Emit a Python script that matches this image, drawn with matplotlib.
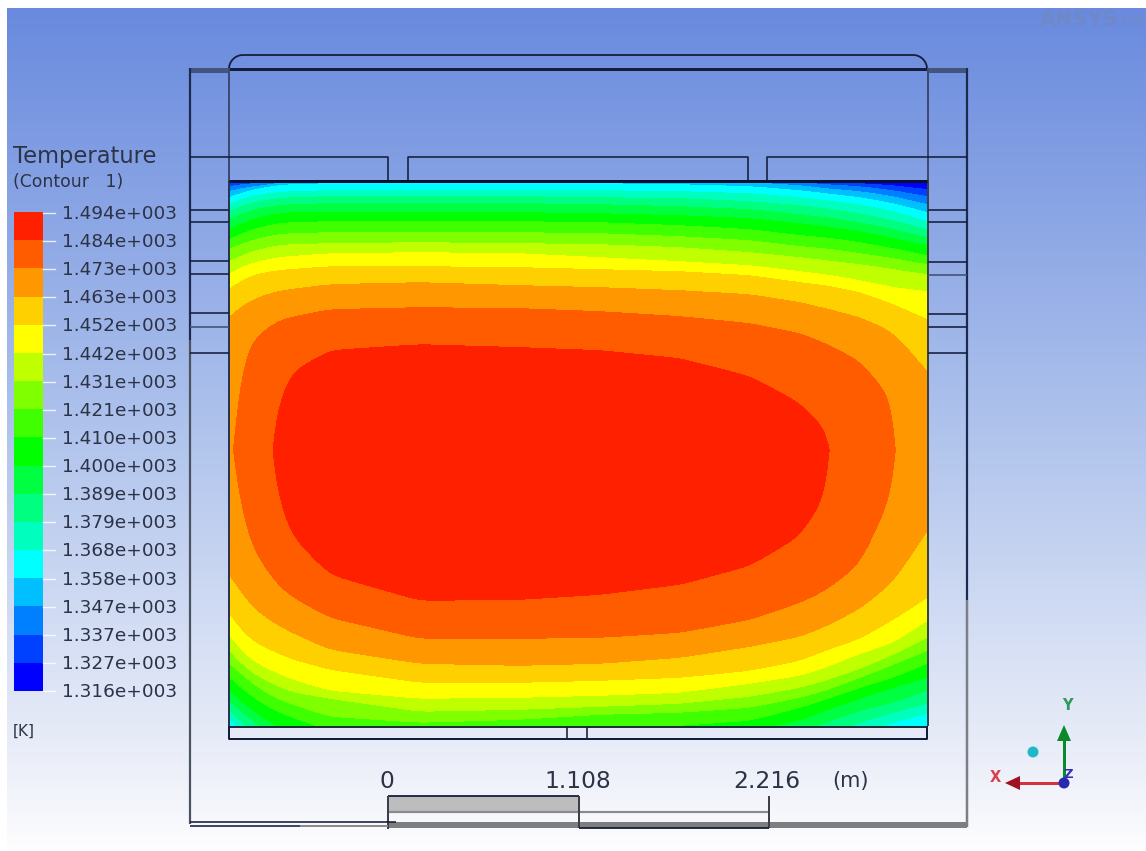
import numpy as np
import matplotlib
matplotlib.use("Agg")
import matplotlib.pyplot as plt
from matplotlib.colors import ListedColormap, LinearSegmentedColormap
from matplotlib.patches import Rectangle, Circle, Polygon

# ---------- data ----------
tick_labels = ["1.494e+003","1.484e+003","1.473e+003","1.463e+003","1.452e+003","1.442e+003",
               "1.431e+003","1.421e+003","1.410e+003","1.400e+003","1.389e+003","1.379e+003",
               "1.368e+003","1.358e+003","1.347e+003","1.337e+003","1.327e+003","1.316e+003"]
levels_asc = [1316,1327,1337,1347,1358,1368,1379,1389,1400,1410,1421,1431,1442,1452,1463,1473,1484,1494]
band_colors = ["#0000ff","#0040ff","#0080ff","#00bfff","#00ffff","#00ffbf","#00ff80","#00ff40","#00ff00",
               "#40ff00","#80ff00","#bfff00","#ffff00","#ffd000","#ff9800","#ff5c00","#ff2000"]

# isotherm positions, one value per column
iso_x = [229,240,255,277,290,330,420,520,600,680,750,800,825,860,893,927]
peak_T = [1471,1476,1480,1484.3,1490,1490,1490,1490,1490,1490,1490,1490,1484.3,1480,1473.3,1467]
peak_y = 450
nan = float("nan")

top_1316 = [170]*16
top_1327 = [184,183,181,178,177,176,175,175,175,175,177,180,182,184,186,190]
top_1337 = [187,185,184,181,179,178,178,178,178,178,180,183,185,187,191,197]
top_1347 = [192,189,187,184,182,181,181,181,181,181,183,186,189,192,197,205]
top_1358 = [198,194,190,186,185,184,184,184,184,185,187,191,194,198,204,213]
top_1368 = [205,200,196,193,192,191,191,191,191,192,194,198,201,205,212,222]
top_1379 = [212,207,203,199,198,197,197,197,198,199,202,206,209,214,221,230]
top_1389 = [220,215,210,206,205,204,204,204,205,207,210,215,218,223,230,238]
top_1400 = [230,225,219,214,213,213,213,213,214,216,219,224,227,232,239,246]
top_1410 = [240,235,229,224,223,222,222,222,223,226,230,236,238,243,249,256]
top_1421 = [250,245,240,235,234,233,233,233,234,237,241,247,249,254,259,265]
top_1431 = [262,257,251,246,245,244,243,244,245,248,253,258,261,265,270,275]
top_1442 = [275,268,263,258,257,254,253,254,258,262,266,272,275,281,288,292]
top_1452 = [290,282,275,271,270,267,267,268,270,272,276,283,286,293,305,320]
top_1463 = [318,308,299,292,290,285,283,286,288,291,295,303,309,318,333,372]
top_1473 = [nan,365,338,322,318,310,308,309,312,317,324,334,344,362,402,nan]
top_1484 = [nan,nan,nan,410,374,351,345,348,351,359,377,404,430,nan,nan,nan]

bot_1484 = [nan,nan,nan,490,533,574,600,599,594,584,565,535,495,nan,nan,nan]
bot_1473 = [nan,510,552,583,595,617,638,638,637,632,619,602,590,563,490,nan]
bot_1463 = [573,590,609,624,631,649,663,665,663,657,646,636,626,608,581,530]
bot_1452 = [612,628,642,652,658,669,682,682,680,677,670,660,650,638,619,597]
bot_1442 = [634,648,662,672,678,690,698,697,695,692,683,675,667,653,642,620]
bot_1431 = [649,662,674,685,691,698,711,709,706,703,696,687,680,668,654,637]
bot_1421 = [662,672,685,698,703,716,722,719,714,712,707,697,690,677,664,650]
bot_1410 = [676,686,698,711,716,730,738,731,727,725,720,707,699,687,677,663]
bot_1400 = [689,700,711,726,732,745,755,747,742,739,730,720,710,698,687,677]
bot_1389 = [699,710,722,738,745,760,772,763,757,753,744,732,722,710,702,690]
bot_1379 = [709,720,733,750,758,775,789,779,772,767,757,744,734,722,712,703]
bot_1368 = [717,729,744,762,771,790,806,795,787,781,770,756,746,733,722,713]
bot_1358 = [727,740,755,775,785,805,822,810,802,796,785,770,760,746,735,726]

top_rows = [top_1316,top_1327,top_1337,top_1347,top_1358,top_1368,top_1379,top_1389,top_1400,
            top_1410,top_1421,top_1431,top_1442,top_1452,top_1463,top_1473,top_1484]
top_temps = [1316,1327,1337,1347,1358,1368,1379,1389,1400,1410,1421,1431,1442,1452,1463,1473,1484]
bot_rows = [bot_1484,bot_1473,bot_1463,bot_1452,bot_1442,bot_1431,bot_1421,bot_1410,bot_1400,
            bot_1389,bot_1379,bot_1368,bot_1358]
bot_temps = [1484,1473,1463,1452,1442,1431,1421,1410,1400,1389,1379,1368,1358]

scale_labels = ["0","1.108","2.216"]

# ---------- figure, image-frame axes ----------
plt.rcParams["font.family"] = ["DejaVu Sans"]
W, H = 1146, 851
fig = plt.figure(figsize=(W/100, H/100), dpi=100, facecolor="white")
ax = fig.add_axes([0,0,1,1])
ax.set_xlim(0,W); ax.set_ylim(H,0); ax.axis("off")

# background gradient
bg = LinearSegmentedColormap.from_list("bg",[(0,"#698ade"),(0.5,"#afc3ec"),(0.9,"#eceff9"),(1,"#fdfdfe")])
ax.imshow(np.arange(256).reshape(-1,1),extent=(7,W,H,8),cmap=bg,aspect="auto",zorder=0,interpolation="bilinear")
ax.set_xlim(0,W); ax.set_ylim(H,0)

# contour field: rows of isotherm positions, drawn on a curvilinear grid
X = np.array(iso_x,float)
peak = np.array(peak_T,float)
ys, zs = [], []
for row,t in zip(top_rows,top_temps):
    r = np.array(row,float)
    ys.append(np.where(np.isnan(r),peak_y,r)); zs.append(np.where(np.isnan(r),peak,float(t)))
ys.append(np.full_like(X,peak_y)); zs.append(peak)
for row,t in zip(bot_rows,bot_temps):
    r = np.array(row,float)
    ys.append(np.where(np.isnan(r),peak_y,r)); zs.append(np.where(np.isnan(r),peak,float(t)))
Y = np.array(ys); Z = np.array(zs)

# rendering only: round the column-to-column corners of the isotherms
xf = np.arange(229.0,928.0,2.0)
kern = np.exp(-0.5*(np.arange(-12,13)/4.0)**2); kern /= kern.sum()
def soften(a):
    f = np.interp(xf,X,a)
    p = np.pad(f,12,mode="reflect",reflect_type="odd")
    return np.convolve(p,kern,mode="valid")
Yf = np.array([soften(r) for r in Y]); Zf = np.array([soften(r) for r in Z])
XX = np.tile(xf,(Yf.shape[0],1))

dom = Rectangle((229,182),698,544,transform=ax.transData,facecolor="#0000ff",edgecolor="none",zorder=1)
ax.add_patch(dom)
cs = ax.contourf(XX,Yf,Zf,levels=np.array(levels_asc,float)-0.02,colors=band_colors,zorder=2)
cs.set_clip_path(dom)
cs.set_edgecolor("face"); cs.set_linewidth(0.4)

# geometry outline
dark = "#141e3c"; mid = "#3a4a72"; grey="#7c7f86"
def ln(xs,ys,c=dark,w=1.6,z=4):
    ax.plot(xs,ys,color=c,lw=w*0.72,solid_capstyle="butt",zorder=z)
# top
ax.add_patch(Rectangle((190,67.5),39,5,color="#42557f",lw=0,zorder=4))
ax.add_patch(Rectangle((928,67.5),39,5,color="#42557f",lw=0,zorder=4))
ln([229,927],[69,69],w=3)
t = np.linspace(0,np.pi/2,20)
ln(np.r_[229+14-14*np.cos(t),913+14*np.sin(t)],np.r_[69-14*np.sin(t),55+14-14*np.cos(t)],w=1.8)
ln([190,190],[68,340],c="#1c2a50",w=2.2); ln([190,190],[340,824],c="#4b5360",w=2.2)
ln([967,967],[68,600],c="#1c2a50",w=2.2); ln([967,967],[600,827],c=grey,w=2.5)
ln([229,229],[68,181],c=mid,w=2); ln([229,229],[181,726],c="#2a3552",w=2)
ln([927.5,927.5],[68,181],c=mid,w=2); ln([927.5,927.5],[181,726],c="#3a4048",w=2)
ln([190,388,388],[157,157,181]); ln([408,408,748,748],[181,157,157,181]); ln([767,767,967],[181,157,157])
ln([229,927],[181,181],c="#0a1030",w=3)
for yy in [210,222,261,274,313,353]:
    ln([190,229],[yy,yy])
ln([190,229],[327,327],c="#3f5078")
for yy in [210,222,262,314,327,353]:
    ln([928,967],[yy,yy])
ln([928,967],[275,275],c="#3f5078")
# bottom box
ln([229,927],[726.5,726.5],c="#20303a",w=2)
ln([229,229,927,927],[726,739,739,726],w=2)
ln([567,567],[727,739]); ln([587,587],[727,739])
# scale bar
ax.add_patch(Rectangle((388,796),191,15,color="#bdbdbd",lw=0,zorder=3))
ax.add_patch(Rectangle((388,822),579,5.5,color="#7e7e80",lw=0,zorder=3))
ln([388,769],[811.5,811.5],c="#8a8a8a",w=2.2)
ln([388,579],[796,796],w=1.8)
ln([388,388],[796,829],c="#3c3f48",w=2); ln([579,579],[796,828],c="#3c3f48",w=2); ln([769,769],[796,828],c="#3c3f48",w=2)
ln([579,769],[828,828],w=1.8)
ln([190,396],[822,822],w=1.6); ln([190,300],[826,826],w=1.6); ln([300,388],[826,826],c="#8a8a8a",w=2)

# legend
tc = "#2c3347"
ax.text(13,157,"Temperature",fontsize=16.3,color=tc,va="center",ha="left",zorder=5)
ax.text(13,182,"(Contour   1)",fontsize=12.4,color=tc,va="center",ha="left",zorder=5)
edges = np.linspace(691,212,len(band_colors)+1)
ax.pcolormesh([14,43],edges,np.arange(len(band_colors)).reshape(-1,1),
              cmap=ListedColormap(band_colors),shading="flat",zorder=3)
lab_y = np.linspace(214,692,len(tick_labels))
for y,s in zip(lab_y,tick_labels):
    ax.plot([43,55],[y-1,y-1],color="white",lw=1,alpha=0.8,zorder=3)
    ax.text(62,y,s,fontsize=13.3,color=tc,va="center",ha="left",zorder=5)
ax.text(13,731,"[K]",fontsize=11,color=tc,va="center",ha="left",zorder=5)

# scale text
for x,s in zip([387,578,767],scale_labels):
    ax.text(x,781,s,fontsize=16.8,color=tc,va="center",ha="center",zorder=5)
ax.text(851,781,"(m)",fontsize=15,color=tc,va="center",ha="center",zorder=5)

# triad
ln([1064,1064],[783,738],c="#0a8a2a",w=3,z=5)
ax.add_patch(Polygon([[1064,725],[1057,741],[1071,741]],color="#0a8a2a",lw=0,zorder=5))
ln([1064,1018],[783,783],c="#d8303a",w=3,z=5)
ax.add_patch(Polygon([[1005,783],[1020,776],[1020,790]],color="#a01020",lw=0,zorder=5))
ax.add_patch(Circle((1064,783),5.5,color="#2828b0",lw=0,zorder=6))
ax.add_patch(Circle((1033,752),5.5,color="#20b8c8",lw=0,zorder=5))
ax.text(1067,706,"Y",fontsize=10.5,color="#2f9a58",va="center",ha="center",fontweight="bold",zorder=5)
ax.text(995,778,"X",fontsize=10.5,color="#d84050",va="center",ha="center",fontweight="bold",zorder=5)
ax.text(1068,775,"Z",fontsize=9.5,color="#3030b0",va="center",ha="center",fontweight="bold",zorder=7)

# logo
ax.text(1040,20,"ANSYS",fontsize=15,color="#6f88c8",va="center",ha="left",fontweight="bold",zorder=5)
ax.text(1120,20,"100",fontsize=9.5,color="#7389c6",va="center",ha="left",zorder=5)

fig.savefig("out.png",dpi=100,facecolor="white")
